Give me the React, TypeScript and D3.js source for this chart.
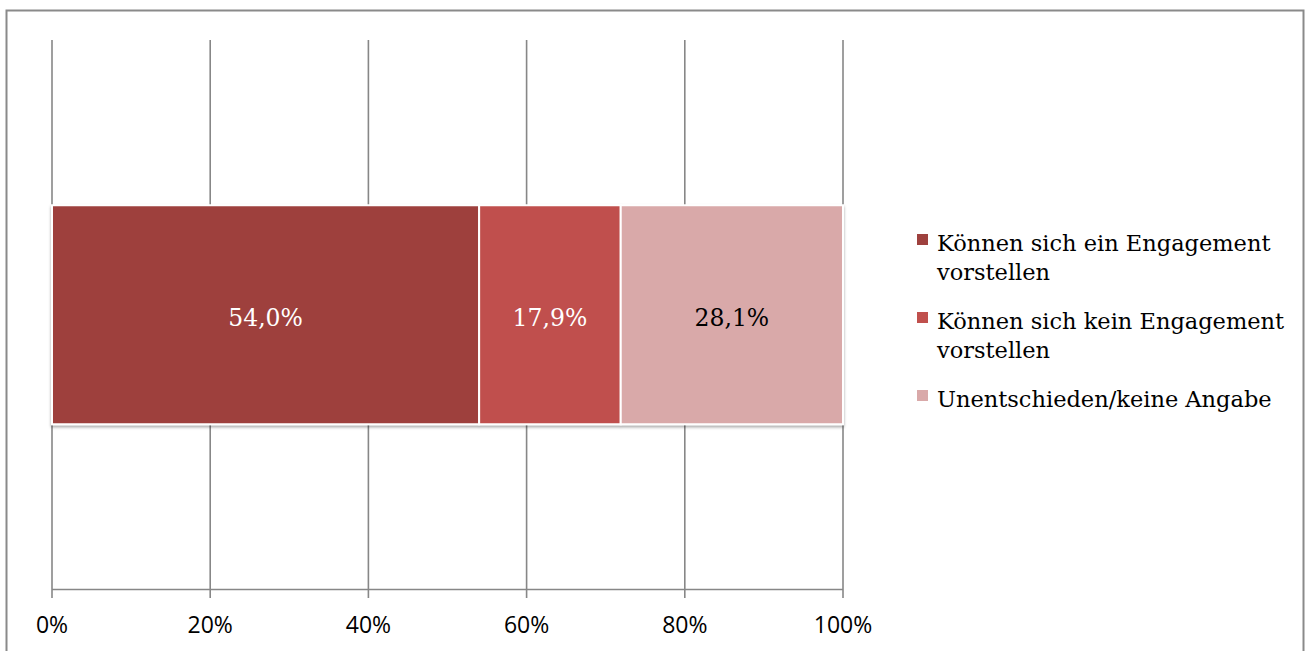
import React from "react";
import * as d3 from "d3";

const categories = ["Engagement"];
const seriesNames = [
  "Können sich ein Engagement vorstellen",
  "Können sich kein Engagement vorstellen",
  "Unentschieden/keine Angabe",
];
const legendLines = [
  ["Können sich ein Engagement", "vorstellen"],
  ["Können sich kein Engagement", "vorstellen"],
  ["Unentschieden/keine Angabe"],
];
const values = [54.0, 17.9, 28.1];
const valueLabels = ["54,0%", "17,9%", "28,1%"];
const tickValues = [0, 20, 40, 60, 80, 100];
const tickLabels = ["0%", "20%", "40%", "60%", "80%", "100%"];
const colors = ["#9E413E", "#C0504D", "#D9A9A9"];
const labelColors = ["#FFFFFF", "#FFFFFF", "#000000"];

const W = 1305;
const H = 651;

export default function App() {
  const x = d3.scaleLinear().domain([0, 100]).range([52, 843]);
  const plotTop = 40;
  const plotBottom = 589.5;
  const y = d3
    .scaleBand<string>()
    .domain(categories)
    .range([plotTop, plotBottom])
    .paddingInner(0)
    .paddingOuter(0.7546);

  const stack = d3.stack<any>().keys(seriesNames.map((_, i) => String(i)));
  const row: any = {};
  values.forEach((v, i) => (row[String(i)] = v));
  const stacked = stack([row]);

  const serif = "'DejaVu Serif', serif";
  const sans = "'Open Sans', sans-serif";
  const grid = "#878787";

  const bandY = y(categories[0]) as number;
  const bw = y.bandwidth();

  return (
    <svg
      width={W}
      height={H}
      style={{ position: "absolute", left: 0, top: 0, background: "#fff" }}
    >
      <defs>
        <filter id="shadow" x="-5%" y="-5%" width="110%" height="115%">
          <feDropShadow dx="0" dy="2" stdDeviation="1.6" floodColor="#000" floodOpacity="0.35" />
        </filter>
      </defs>
      {/* outer frame */}
      <rect x={6.5} y={10.5} width={1297} height={700} fill="none" stroke="#8a8a8a" strokeWidth={2} />

      {/* gridlines */}
      {tickValues.map((t) => (
        <line
          key={"g" + t}
          x1={x(t)}
          x2={x(t)}
          y1={plotTop}
          y2={598}
          stroke={grid}
          strokeWidth={1.6}
        />
      ))}
      {/* axis line */}
      <line x1={x(0)} x2={x(100)} y1={plotBottom} y2={plotBottom} stroke={grid} strokeWidth={1.6} />

      {/* tick labels */}
      {tickValues.map((t, i) => (
        <text
          key={"t" + t}
          x={x(t)}
          y={633}
          textAnchor="middle"
          fontFamily={sans}
          fontSize={23}
          fill="#000"
        >
          {tickLabels[i]}
        </text>
      ))}

      {/* bars */}
      <g filter="url(#shadow)">
        {stacked.map((s, i) => (
          <rect
            key={"b" + i}
            x={x(s[0][0])}
            y={bandY}
            width={x(s[0][1]) - x(s[0][0])}
            height={bw}
            fill={colors[i]}
            stroke="#fff"
            strokeWidth={2}
          />
        ))}
      </g>
      {stacked.map((s, i) => (
        <text
          key={"l" + i}
          x={(x(s[0][0]) + x(s[0][1])) / 2}
          y={bandY + bw / 2 + 11}
          textAnchor="middle"
          fontFamily={serif}
          fontSize={23.5}
          fill={labelColors[i]}
        >
          {valueLabels[i]}
        </text>
      ))}

      {/* legend */}
      {legendLines.map((lines, i) => {
        const y0 = 251 + i * 78;
        return (
          <g key={"lg" + i}>
            <rect x={917} y={y0 - 17} width={11} height={11} fill={colors[i]} />
            {lines.map((ln, j) => (
              <text
                key={j}
                x={937}
                y={y0 + j * 29}
                fontFamily={serif}
                fontSize={22.5}
                fill="#000"
              >
                {ln}
              </text>
            ))}
          </g>
        );
      })}
    </svg>
  );
}
